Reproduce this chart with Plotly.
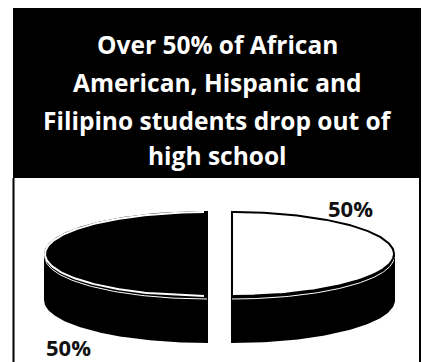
import numpy as np
import plotly.graph_objects as go

# ---- data ----
labels = ["Stay in school", "Drop out"]
values = [50, 50]
label_text = ["50%", "50%"]
title_lines = ["Over 50% of African", "American, Hispanic and",
               "Filipino students drop out of", "high school"]

# ---- style / geometry (pixel-like axis units) ----
W, H = 423, 362
cx, cy = 219.5, 254.0
rx, ry = 162.0, 42.0
depth = 46.0
pull = 12.5
top_fill = ["#ffffff", "#000000"]
wall_fill = ["#000000", "#000000"]

fig = go.Figure()

total = sum(values)
start = 0.0
slices = []
for i, v in enumerate(values):
    span = 360.0 * v / total
    a0, a1 = start, start + span
    mid = np.radians((a0 + a1) / 2)
    ox, oy = pull * np.sin(mid), -pull * np.cos(mid) * ry / rx
    slices.append((a0, a1, ox, oy))
    start = a1

def pt(theta_deg, ox, oy, dy=0.0):
    t = np.radians(theta_deg)
    return cx + ox + rx * np.sin(t), cy + oy - ry * np.cos(t) + dy

# walls
for i, (a0, a1, ox, oy) in enumerate(slices):
    lo, hi = max(a0, 90.0), min(a1, 270.0)
    if hi <= lo:
        continue
    th = np.linspace(lo, hi, 80)
    xs_t, ys_t = pt(th, ox, oy)
    xs_b, ys_b = pt(th[::-1], ox, oy, depth)
    xs = np.concatenate([xs_t, xs_b, xs_t[:1]])
    ys = np.concatenate([ys_t, ys_b, ys_t[:1]])
    fig.add_trace(go.Scatter(x=xs, y=ys, mode="lines", fill="toself",
                             fillcolor=wall_fill[i],
                             line=dict(color="#000000", width=2),
                             hoverinfo="skip", showlegend=False))
    fig.add_trace(go.Scatter(x=xs_t, y=ys_t + 3, mode="lines",
                             line=dict(color="#ffffff", width=1),
                             hoverinfo="skip", showlegend=False))

# top faces
for i, (a0, a1, ox, oy) in enumerate(slices):
    th = np.linspace(a0, a1, 160)
    xs_a, ys_a = pt(th, ox, oy)
    xs = np.concatenate([[cx + ox], xs_a, [cx + ox]])
    ys = np.concatenate([[cy + oy], ys_a, [cy + oy]])
    fig.add_trace(go.Scatter(x=xs, y=ys, mode="lines", fill="toself",
                             fillcolor=top_fill[i],
                             line=dict(color="#000000", width=2),
                             name=labels[i], hoverinfo="name",
                             showlegend=False))
    if top_fill[i] == "#000000":
        xr, yr = pt(th, ox, oy)
        xr = np.concatenate([[cx + ox - 3], xr[1:-1], [cx + ox - 3]])
        fig.add_trace(go.Scatter(x=xr, y=yr, mode="lines",
                                 line=dict(color="#ffffff", width=2),
                                 hoverinfo="skip", showlegend=False))

# percentage labels
lab_pos = [(350, 208), (68, 347)]
for i, (lx, ly) in enumerate(lab_pos):
    fig.add_annotation(x=lx, y=ly, text="<b>" + label_text[i] + "</b>",
                       showarrow=False, xref="x", yref="y",
                       font=dict(family="Open Sans", size=22, color="#111111"))

# title box
fig.add_shape(type="rect", xref="x", yref="y", x0=13, x1=421, y0=8, y1=178,
              fillcolor="#000000", line=dict(width=0), layer="below")
fig.add_shape(type="line", xref="x", yref="y", x0=13.5, x1=13.5, y0=178, y1=362,
              line=dict(color="#000000", width=2))
fig.add_shape(type="line", xref="x", yref="y", x0=420, x1=420, y0=178, y1=362,
              line=dict(color="#000000", width=2))
line_y = [44, 82, 120, 155]
for t, yy in zip(title_lines, line_y):
    fig.add_annotation(x=217, y=yy, text="<b>" + t + "</b>", showarrow=False,
                       xref="x", yref="y",
                       font=dict(family="Open Sans", size=24.5, color="#ffffff"))

fig.update_layout(width=W, height=H, margin=dict(l=0, r=0, t=0, b=0),
                  paper_bgcolor="#ffffff", plot_bgcolor="#ffffff",
                  xaxis=dict(range=[0, W], visible=False, fixedrange=True),
                  yaxis=dict(range=[H, 0], visible=False, fixedrange=True),
                  showlegend=False)
fig.write_html("out.html", config={"displayModeBar": False},
               post_script="document.body.style.margin='0';document.body.style.overflow='hidden';")
